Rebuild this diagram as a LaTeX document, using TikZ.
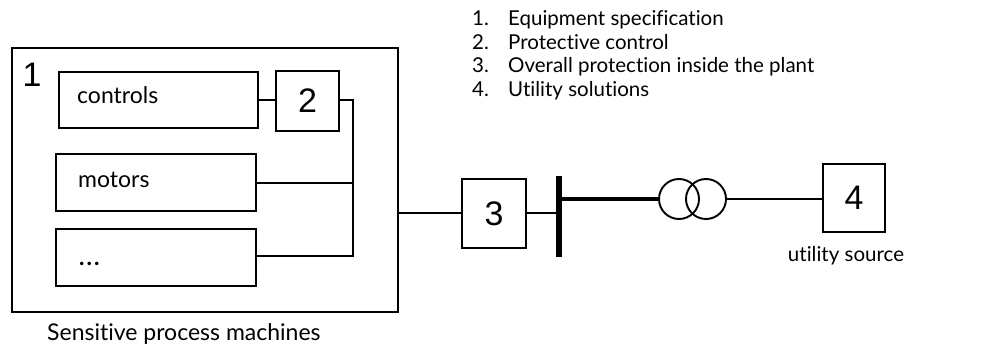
\documentclass[tikz,border=0pt]{standalone}
\usepackage{fontspec}
\setmainfont[Ligatures={NoCommon}]{Lato}
\newfontfamily\digitfont{Liberation Sans}
\begin{document}
\begin{tikzpicture}[x=1pt,y=-1pt,
  box/.style={draw,line width=2.8pt,inner sep=0pt,minimum width=#1},
  lbl/.style={font=\fontsize{20.5}{23}\selectfont,inner sep=0pt},
  biglbl/.style={font=\fontsize{23}{26}\selectfont,inner sep=0pt},
  num/.style={font=\digitfont\fontsize{34}{34}\selectfont,inner sep=0pt},
  wire/.style={line width=2.8pt},
  thinwire/.style={line width=1.7pt}]
\useasboundingbox (0,0) rectangle (983,345);
% outer plant box
\node[box=386pt,minimum height=264pt] (outer) at (205,180) {};
\node[num,anchor=base] (n1) at (32,86) {1};
% inner boxes
\node[box=199pt,minimum height=56pt] (controls) at (158.5,100) {};
\node[biglbl,anchor=base west] (tcontrols) at (77,103) {controls};
\node[box=200pt,minimum height=57pt] (motors) at (156,182.5) {};
\node[biglbl,anchor=base west] (tmotors) at (78,187) {motors};
\node[box=200pt,minimum height=57pt] (dots) at (156,257.5) {};
\node[biglbl,anchor=base west] (tdots) at (79,265) {\textbf{.\kern2pt.\kern2pt.}};
\node[box=63pt,minimum height=60pt,num] (b2) at (307.5,101) {2};
% wiring inside
\coordinate (j1) at (353,100);
\coordinate (j2) at (353,183);
\coordinate (j3) at (353,256);
\draw[wire] (controls.east |- 0,100) -- (b2.west |- 0,100);
\draw[wire] (b2.east |- 0,100) -- (j1) -- (j3) -- (dots.east |- j3);
\draw[wire] (motors.east |- j2) -- (j2);
% box 3 and bus
\node[box=64pt,minimum height=69pt,num] (b3) at (494,213.5) {3};
\node[fill=black,inner sep=0pt,minimum width=6pt,minimum height=81pt] (bus) at (559,216.5) {};
\draw[wire] (outer.east |- 0,213) -- (b3.west |- 0,213);
\draw[wire] (b3.east |- 0,213) -- (bus.west |- 0,213);
% transformer
\node[draw,circle,line width=1.9pt,minimum size=40pt,inner sep=0pt] (t1) at (679,199) {};
\node[draw,circle,line width=1.9pt,minimum size=40pt,inner sep=0pt] (t2) at (706,199) {};
\draw[line width=3.4pt] (bus.east |- 0,199) -- (t1.west);
% box 4
\node[box=62pt,minimum height=68pt,num] (b4) at (854,198) {4};
\draw[thinwire] (t2.east) -- (b4.west |- t2.east);
% captions
\node[lbl,anchor=base] (util) at (846,261) {utility source};
\node[biglbl,anchor=base west] (spm) at (47,340) {Sensitive process machines};
% legend
\node[lbl,anchor=base west] (l1n) at (472,26) {1.};
\node[lbl,anchor=base west] (l1) at (508,26) {Equipment specification};
\node[lbl,anchor=base west] (l2n) at (472,49.5) {2.};
\node[lbl,anchor=base west] (l2) at (508,49.5) {Protective control};
\node[lbl,anchor=base west] (l3n) at (472,73) {3.};
\node[lbl,anchor=base west] (l3) at (508,73) {Overall protection inside the plant};
\node[lbl,anchor=base west] (l4n) at (472,96) {4.};
\node[lbl,anchor=base west] (l4) at (508,96) {Utility solutions};
\end{tikzpicture}
\end{document}
